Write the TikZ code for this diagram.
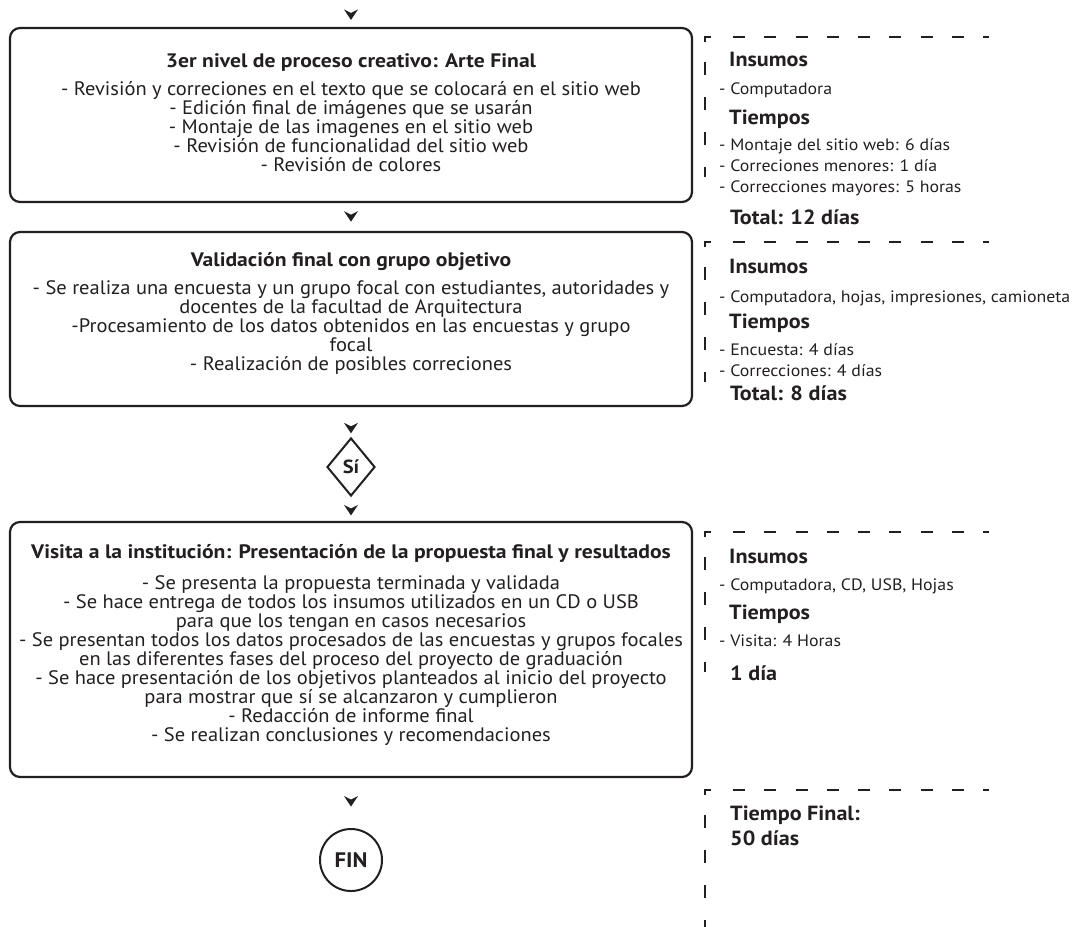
\documentclass[tikz,border=0pt]{standalone}
\usepackage{fontspec}
\setmainfont{PT Sans}
\newfontfamily\bodyfont[FakeStretch=1.05]{PT Sans}
\newfontfamily\titlefont[FakeStretch=1.11]{PT Sans Bold}
\newfontfamily\sidefont[FakeStretch=1.08]{PT Sans}
\newfontfamily\sidebold[FakeStretch=1.08]{PT Sans Bold}
\usetikzlibrary{arrows.meta,shapes.geometric}
\definecolor{ink}{HTML}{231F20}
\tikzset{
 procbox/.style={draw=ink, line width=2.2pt, rounded corners=10pt, minimum width=682pt, inner sep=0pt},
 ttl/.style={text=ink, font=\titlefont\fontsize{19.5}{19}\selectfont, anchor=base, inner sep=0pt},
 body/.style={text=ink, font=\bodyfont\fontsize{19.5}{19}\selectfont, align=center, anchor=base, inner sep=0pt},
 hd/.style={text=ink, font=\sidebold\fontsize{20.5}{20}\selectfont, anchor=base west, inner sep=0pt},
 itm/.style={text=ink, font=\sidefont\fontsize{16.5}{16.5}\selectfont, anchor=base west, inner sep=0pt},
 chev/.pic={\fill[ink] (-7,-10.5) -- (0,-7) -- (7,-10.5) -- (0,0) -- cycle;},
 dashv/.style={draw=ink, line width=2.6pt, dash pattern=on 13pt off 22pt},
 dashh/.style={draw=ink, line width=2.6pt, dash pattern=on 12pt off 19.25pt},
 corner/.style={draw=ink, line width=2.6pt},
}
\begin{document}
\begin{tikzpicture}[x=1pt,y=-1pt]
\useasboundingbox (0,0) rectangle (1083,926);

% process boxes
\node[procbox, minimum height=174pt] (b1) at (351,115) {};
\node[procbox, minimum height=174pt] (b2) at (351,319) {};
\node[procbox, minimum height=255pt] (b3) at (351,649.5) {};
\node[draw=ink, line width=2pt, shape=diamond, minimum width=48pt, minimum height=58pt, inner sep=0pt,
      font=\sidebold\fontsize{19}{19}\selectfont, text=ink] (si) at (351,467) {Sí};
\node[draw=ink, line width=2pt, circle, minimum size=62pt, inner sep=0pt,
      font=\sidebold\fontsize{21}{21}\selectfont, text=ink] (fin) at (351,860) {FIN};
\coordinate (start) at (351,0);

% connectors (arrowheads only, tip at the placed coordinate)
\path (start) -- (b1.north) coordinate[pos=0.74] (a1);
\path (b1.south) -- (b2.north) coordinate[pos=0.667] (a2);
\path (b2.south) -- (si.north) coordinate[pos=0.875] (a3);
\path (si.south) -- (b3.north) coordinate[pos=0.77] (a4);
\path (b3.south) -- (fin.north) coordinate[pos=0.57] (a5);
\foreach \a in {a1,a2,a3,a4,a5}{ \pic at (\a) {chev}; }

% box texts (body nodes are anchored at the baseline of their last line)
\node[ttl] (t1) at (351,67) {3er nivel de proceso creativo: Arte Final};
\node[body] (x1) at (351,171) {- Revisión y correciones en el texto que se colocará en el sitio web\\
- Edición final de imágenes que se usarán\\
- Montaje de las imagenes en el sitio web\\
- Revisión de funcionalidad del sitio web\\
- Revisión de colores};

\node[ttl] (t2) at (351,266) {Validación final con grupo objetivo};
\node[body] (x2) at (351,370) {- Se realiza una encuesta y un grupo focal con estudiantes, autoridades y\\
docentes de la facultad de Arquitectura\\
-Procesamiento de los datos obtenidos en las encuestas y grupo\\
focal\\
- Realización de posibles correciones};

\node[ttl] (t3) at (351,558) {Visita a la institución: Presentación de la propuesta final y resultados};
\node[body] (x3) at (351,741) {- Se presenta la propuesta terminada y validada\\
- Se hace entrega de todos los insumos utilizados en un CD o USB\\
para que los tengan en casos necesarios\\
- Se presentan todos los datos procesados de las encuestas y grupos focales\\
en las diferentes fases del proceso del proyecto de graduación\\
- Se hace presentación de los objetivos planteados al inicio del proyecto\\
para mostrar que sí se alcanzaron y cumplieron\\
- Redacción de informe final\\
- Se realizan conclusiones y recomendaciones};

% side panels
\foreach \t in {37,242,532,790}{
  \draw[corner] (705,\t+5) -- (705,\t) -- (711,\t);
  \draw[dashh] (733,\t) -- (989,\t);
  \draw[dashv] (705,\t+25) -- (705,\t+140);
}

% panel 1
\node[hd] (p1a) at (729,66.7) {Insumos};
\node[itm] (p1b) at (719,94) {- Computadora};
\node[hd] (p1c) at (729,124) {Tiempos};
\node[itm] (p1d) at (719,150.7) {- Montaje del sitio web: 6 días};
\node[itm] (p1e) at (719,171.7) {- Correciones menores: 1 día};
\node[itm] (p1f) at (719,192.7) {- Correcciones mayores: 5 horas};
\node[hd] (p1g) at (730,224) {Total: 12 días};

% panel 2
\node[hd] (p2a) at (729,273.3) {Insumos};
\node[itm] (p2b) at (719,302.7) {- Computadora, hojas, impresiones, camioneta};
\node[hd] (p2c) at (729,328.3) {Tiempos};
\node[itm] (p2d) at (719,355) {- Encuesta: 4 días};
\node[itm] (p2e) at (719,376) {- Correcciones: 4 días};
\node[hd] (p2f) at (730,400) {Total: 8 días};

% panel 3
\node[hd] (p3a) at (729,563.3) {Insumos};
\node[itm] (p3b) at (719,590) {- Computadora, CD, USB, Hojas};
\node[hd] (p3c) at (729,619.3) {Tiempos};
\node[itm] (p3d) at (719,646.7) {- Visita: 4 Horas};
\node[hd] (p3e) at (730,680) {1 día};

% panel 4
\node[hd] (p4a) at (730,820) {Tiempo Final:};
\node[hd] (p4b) at (730,845) {50 días};
\end{tikzpicture}
\end{document}
